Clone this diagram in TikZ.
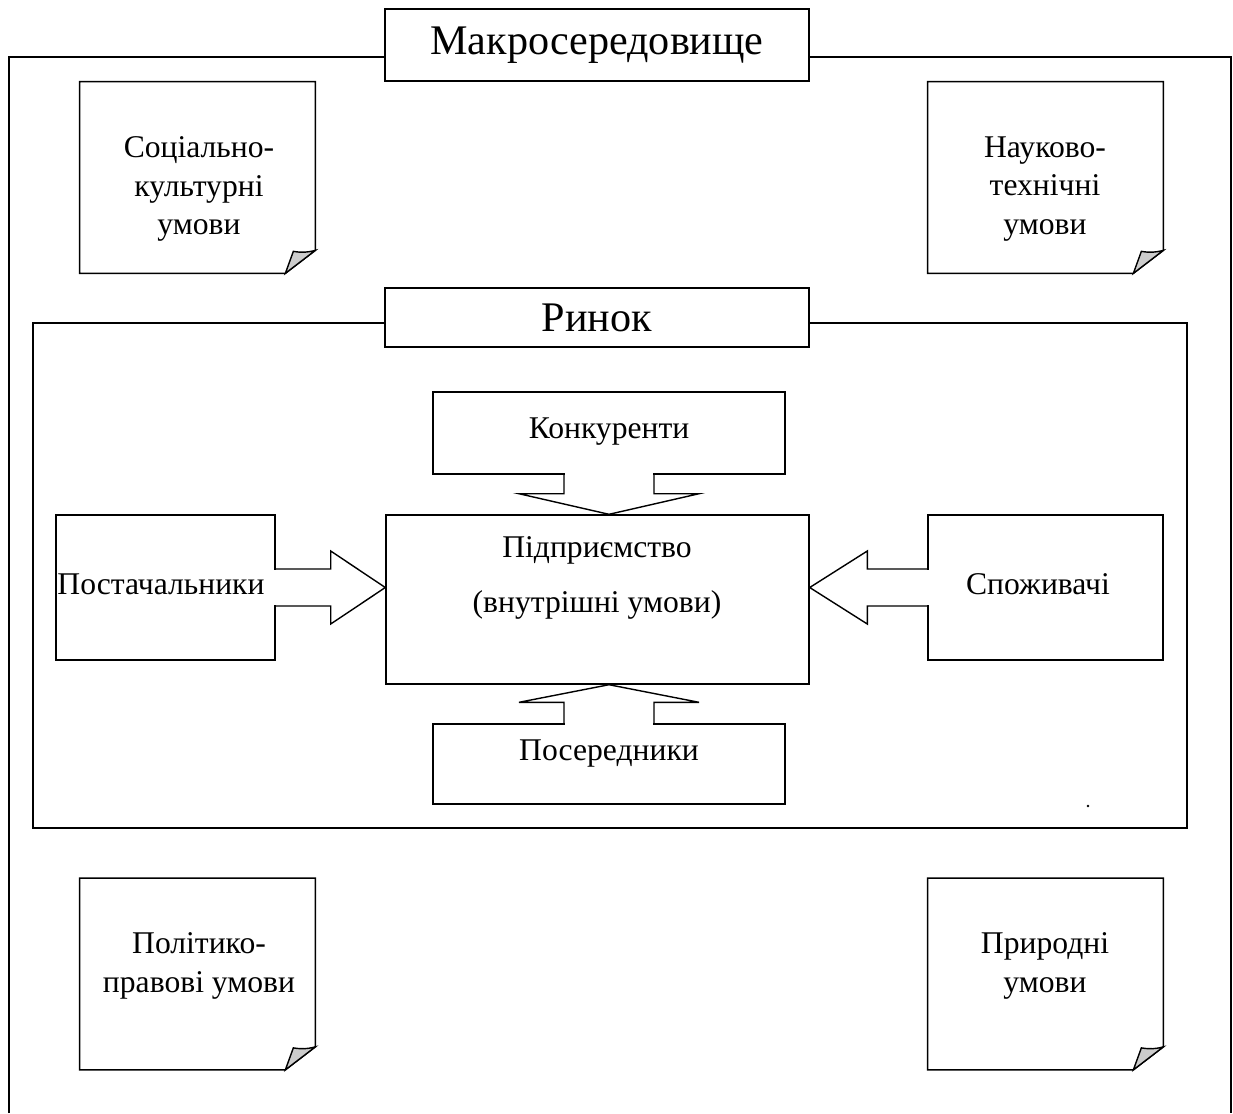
\documentclass[tikz,border=0pt]{standalone}
\usepackage{fontspec}
\setmainfont{Liberation Serif}
\usetikzlibrary{calc}
\newlength\px
\setlength\px{0.02cm}
% note with a turned-down corner
\newcommand{\foldnote}[1]{%
  \draw[thick] (#1.north west) -- (#1.north east) -- ($(#1.south east)+(0,-23)$)
    -- ($(#1.south east)+(-30,0)$) -- (#1.south west) -- cycle;
  \filldraw[thick,fill=black!20] ($(#1.south east)+(-30,0)$) -- ($(#1.south east)+(-22,-22)$)
    to[bend right=12] ($(#1.south east)+(0,-23)$) -- cycle;}
\tikzset{
  title/.style={draw,thick,fill=white,inner sep=0,minimum width=424\px,font=\fontsize{24}{28}\selectfont},
  box/.style={draw,thick,inner sep=0},
  note/.style={inner sep=0,minimum width=235\px,minimum height=191\px},
  txt/.style={align=center,inner sep=0,font=\fontsize{18}{22}\selectfont}
}
\begin{document}
\begin{tikzpicture}[x=0.02cm,y=-0.02cm]
\useasboundingbox (0,0) rectangle (1233,1113);
% Macro environment
\draw[thick] (9,1113) -- (9,57) -- (1231,57) -- (1231,1113);
\node[title,minimum height=72\px] (makro) at (597,45) {Макросередовище};
\node[note] (soc) at (197.5,177.5) {};
\node[note] (nauk) at (1045.5,177.5) {};
\node[note] (polit) at (197.5,974) {};
\node[note] (pryr) at (1045.5,974) {};
\foldnote{soc}
\foldnote{nauk}
\foldnote{polit}
\foldnote{pryr}
\node[txt] (soctxt) at (199,189) {Соціально-\\культурні\\умови};
\node[txt] (nauktxt) at (1045,189) {Науково-\\технічні\\умови};
\node[txt] (polittxt) at (199,966) {Політико-\\правові умови};
\node[txt] (pryrtxt) at (1045,966) {Природні\\умови};
% Market
\draw[thick] (33,323) rectangle (1187,828);
\node[title,minimum height=59\px] (rynok) at (597,317.5) {Ринок};
\node[box,minimum width=352\px,minimum height=82\px] (konk) at (609,433) {};
\node[box,minimum width=423\px,minimum height=169\px] (pidp) at (597.5,599.5) {};
\node[box,minimum width=219\px,minimum height=145\px] (post) at (165.5,587.5) {};
\node[box,minimum width=235\px,minimum height=145\px] (spoz) at (1045.5,587.5) {};
\node[box,minimum width=352\px,minimum height=80\px] (posr) at (609,764) {};
\node[txt] (konktxt) at (609,432) {Конкуренти};
\node[txt] (pidptxt) at (597,578) {Підприємство\\[9pt](внутрішні умови)};
\node[txt] (posttxt) at (161,584) {Постачальники};
\node[txt] (spoztxt) at (1038,584) {Споживачі};
\node[txt] (posrtxt) at (609,753) {Посередники};
% block arrows
\fill[white] ($(post.east)+(-2,-17.8)$) rectangle ($(post.east)+(2,17.8)$);
\draw[thick] ($(post.east)+(0,-18.5)$) -- ++(55,0) -- ++(0,-18) -- (post.east -| pidp.west)
  -- ($(post.east)+(55,36.5)$) -- ++(0,-18) -- ++(-55,0);
\fill[white] ($(spoz.west)+(-2,-17.8)$) rectangle ($(spoz.west)+(2,17.8)$);
\draw[thick] ($(spoz.west)+(0,-18.5)$) -- ++(-60,0) -- ++(0,-18) -- (spoz.west -| pidp.east)
  -- ($(spoz.west)+(-60,36.5)$) -- ++(0,-18) -- ++(60,0);
\fill[white] ($(konk.south)+(-44.3,-2)$) rectangle ($(konk.south)+(44.3,2)$);
\draw[thick] ($(konk.south)+(-45,0)$) -- ++(0,19) -- ++(-45,0) -- (konk.south |- pidp.north)
  -- ($(konk.south)+(90,19)$) -- ++(-45,0) -- ++(0,-19);
\fill[white] ($(posr.north)+(-44.3,-2)$) rectangle ($(posr.north)+(44.3,2)$);
\draw[thick] ($(posr.north)+(-45,0)$) -- ++(0,-21) -- ++(-45,0) -- (posr.north |- pidp.south)
  -- ($(posr.north)+(90,-21)$) -- ++(-45,0) -- ++(0,21);
\fill (1088,806) circle (1.3);
\end{tikzpicture}
\end{document}
